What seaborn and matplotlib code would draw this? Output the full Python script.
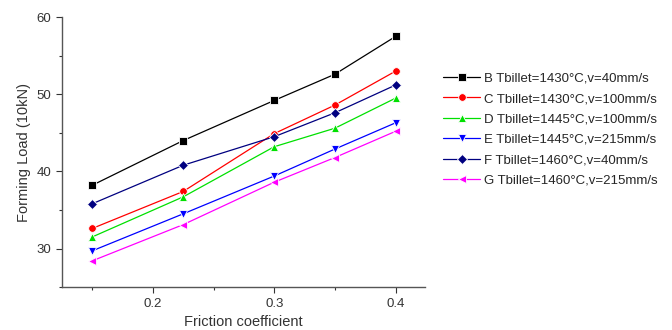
import matplotlib
matplotlib.use("Agg")
import matplotlib.pyplot as plt
import seaborn as sns
import pandas as pd
from matplotlib.ticker import MultipleLocator

friction = [0.15, 0.225, 0.3, 0.35, 0.4]
series_names = [
    "B Tbillet=1430°C,v=40mm/s",
    "C Tbillet=1430°C,v=100mm/s",
    "D Tbillet=1445°C,v=100mm/s",
    "E Tbillet=1445°C,v=215mm/s",
    "F Tbillet=1460°C,v=40mm/s",
    "G Tbillet=1460°C,v=215mm/s",
]
B = [38.2, 44.0, 49.2, 52.6, 57.5]
C = [32.6, 37.4, 44.9, 48.6, 53.0]
D = [31.5, 36.7, 43.2, 45.6, 49.5]
E = [29.7, 34.5, 39.4, 42.9, 46.3]
F = [35.8, 40.8, 44.5, 47.6, 51.2]
G = [28.4, 33.1, 38.6, 41.8, 45.2]
values = [B, C, D, E, F, G]

colors = ["#000000", "#FF0000", "#00E000", "#0000FF", "#000080", "#FF00FF"]
markers = ["s", "o", "^", "v", "D", "<"]

rows = []
for name, vals in zip(series_names, values):
    for x, y in zip(friction, vals):
        rows.append({"Friction coefficient": x, "Load": y, "Series": name})
df = pd.DataFrame(rows)

sns.set_style("ticks")
plt.rcParams["font.family"] = ["Liberation Sans", "DejaVu Sans"]

fig = plt.figure(figsize=(6.72, 3.30), dpi=100)
ax = fig.add_axes([0.092, 0.130, 0.540, 0.818])

sns.lineplot(
    data=df, x="Friction coefficient", y="Load", hue="Series", style="Series",
    palette=dict(zip(series_names, colors)),
    markers=dict(zip(series_names, markers)),
    dashes=False, linewidth=0.9, markersize=5.5, markeredgewidth=0.6,
    ax=ax, legend=True,
)

ax.set_xlim(0.125, 0.424)
ax.set_ylim(25, 60)
ax.xaxis.set_major_locator(MultipleLocator(0.1))
ax.xaxis.set_minor_locator(MultipleLocator(0.05))
ax.yaxis.set_major_locator(MultipleLocator(10))
ax.yaxis.set_minor_locator(MultipleLocator(5))
ax.set_xticks([0.2, 0.3, 0.4])
ax.set_xticklabels(["0.2", "0.3", "0.4"])
ax.tick_params(axis="both", which="major", length=4, width=0.8, labelsize=9.5, colors="#333333", labelcolor="#333333")
ax.tick_params(axis="both", which="minor", length=2, width=0.8, colors="#333333")
for s in ["top", "right"]:
    ax.spines[s].set_visible(False)
for s in ["left", "bottom"]:
    ax.spines[s].set_linewidth(1.0)
    ax.spines[s].set_color("#555555")

ax.set_xlabel("Friction coefficient", fontsize=10.5, color="#333333")
ax.set_ylabel("Forming Load (10kN)", fontsize=10.5, color="#333333")

handles, labels = ax.get_legend_handles_labels()
for h in handles:
    h.set_markersize(5.5)
ax.legend(handles, labels, loc="upper left", bbox_to_anchor=(1.036, 0.815),
          frameon=False, fontsize=9.5, handlelength=2.8, labelspacing=0.62,
          handletextpad=0.3, borderaxespad=0)

fig.savefig("out.png", dpi=100)
